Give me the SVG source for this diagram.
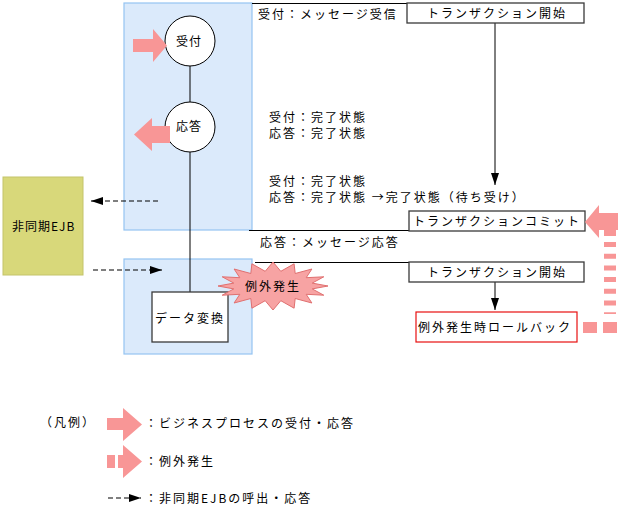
<svg xmlns="http://www.w3.org/2000/svg" width="621" height="511" viewBox="0 0 621 511">
<defs>
<style>
text{font-family:"Noto Sans CJK JP","Noto Sans",sans-serif;font-size:12px;fill:#000;letter-spacing:2px}
.zone{fill:#dbeafb;stroke:#94c4f2;stroke-width:1.2}
.box{fill:#fff;stroke:#3a3a3a;stroke-width:1.3}
.ln{stroke:#000;stroke-width:1;fill:none}
.dash{stroke:#000;stroke-width:1.2;stroke-dasharray:5 3;fill:none}
.pink{fill:#f89696}
.circ{fill:#fff;stroke:#000;stroke-width:1}
</style>
<marker id="ah" viewBox="0 0 12 8" refX="12" refY="4" markerWidth="12" markerHeight="8" markerUnits="userSpaceOnUse" orient="auto">
<path d="M0,0 L12,4 L0,8 Z" fill="#000"/>
</marker>
</defs>
<rect width="621" height="511" fill="#fff"/>

<g id="zone-upper"><rect class="zone" x="124" y="3" width="128" height="227"/></g>
<g id="zone-lower"><rect class="zone" x="124" y="259" width="128" height="95"/></g>

<g id="ejb">
<rect x="3" y="177" width="80" height="98" fill="#d8d87a" stroke="#c4c46a" stroke-width="1"/>
<text x="12" y="231" style="letter-spacing:1px">非同期EJB</text>
</g>

<g id="connectors">
<line class="ln" x1="190" y1="66" x2="190" y2="102"/>
<line class="ln" x1="190" y1="152" x2="190" y2="292"/>
<line class="ln" x1="252" y1="3.5" x2="407" y2="3.5"/>
<line class="ln" x1="249" y1="230.5" x2="409" y2="230.5"/>
<line class="ln" x1="255" y1="262.5" x2="409" y2="262.5"/>
<line class="ln" x1="495" y1="23" x2="495" y2="185" marker-end="url(#ah)"/>
<line class="ln" x1="495" y1="282" x2="495" y2="310" marker-end="url(#ah)"/>
<line class="dash" x1="158" y1="201" x2="91" y2="201" marker-end="url(#ah)"/>
<line class="dash" x1="93" y1="270" x2="162" y2="270" marker-end="url(#ah)"/>
</g>

<g id="node-uketsuke">
<circle class="circ" cx="190" cy="41" r="25"/>
<text x="176" y="46" style="letter-spacing:1px">受付</text>
<polygon class="pink" points="133,39 153,39 153,29 167,45.5 153,62 153,52 133,52"/>
</g>

<g id="node-outou">
<circle class="circ" cx="190" cy="127" r="25"/>
<polygon class="pink" points="170,126 152,126 152,118 134,134.5 152,151 152,143 170,143"/>
<text x="176" y="131" style="letter-spacing:1px">応答</text>
</g>

<g id="node-henkan">
<rect class="box" x="152" y="292" width="76" height="50"/>
<text x="155" y="323">データ変換</text>
</g>

<g id="node-exception">
<polygon fill="#f7a3a3" stroke="#e07070" stroke-width="1" points="328,286 312.2,288.9 323.8,295.2 306.2,294.3 311.9,303 295.2,298.5 294.1,308.2 280.8,300.7 273,310 265.2,300.7 251.9,308.2 250.8,298.5 234.1,303 239.8,294.3 222.2,295.2 233.8,288.9 218,286 233.8,283.1 222.2,276.8 239.8,277.7 234.1,269 250.8,273.5 251.9,263.8 265.2,271.3 273,262 280.8,271.3 294.1,263.8 295.2,273.5 311.9,269 306.2,277.7 323.8,276.8 312.2,283.1"/>
<text x="245" y="291">例外発生</text>
</g>

<g id="tx-start1">
<rect class="box" x="407" y="3" width="177" height="20"/>
<text x="427" y="18">トランザクション開始</text>
</g>
<g id="tx-commit">
<rect class="box" x="409" y="211" width="176" height="20"/>
<text x="413" y="226">トランザクションコミット</text>
</g>
<g id="tx-start2">
<rect class="box" x="409" y="262" width="175" height="20"/>
<text x="427" y="277">トランザクション開始</text>
</g>
<g id="rollback">
<rect x="416" y="312" width="161" height="30" fill="#fff" stroke="#e81010" stroke-width="1.2"/>
<text x="418" y="332">例外発生時ロールバック</text>
</g>

<g id="exception-arrow">
<polygon class="pink" points="585,222 599,205 599,213 618,213 618,230 616,230 616,236 604,236 604,230 599,230 599,238"/>
<line x1="610" y1="242" x2="610" y2="314" stroke="#f89696" stroke-width="12" stroke-dasharray="5 6.7"/>
<rect class="pink" x="583" y="322" width="14" height="11"/>
<rect class="pink" x="603" y="322" width="14" height="11"/>
</g>

<g id="labels">
<text x="258" y="19">受付：メッセージ受信</text>
<text x="269" y="122">受付：完了状態</text>
<text x="269" y="138">応答：完了状態</text>
<text x="269" y="186">受付：完了状態</text>
<text x="269" y="202">応答：完了状態 →完了状態（待ち受け）</text>
<text x="260" y="247">応答：メッセージ応答</text>
</g>

<g id="legend">
<text x="40" y="427">（凡例）</text>
<polygon class="pink" points="107,418 123,418 123,408 142,424.5 123,441 123,430 107,430"/>
<text x="145" y="428">：ビジネスプロセスの受付・応答</text>
<rect class="pink" x="107" y="455" width="8" height="13"/>
<polygon class="pink" points="118,455 123,455 123,445 142,461.5 123,478 123,468 118,468"/>
<text x="145" y="466">：例外発生</text>
<line class="dash" x1="108" y1="498" x2="141" y2="498" marker-end="url(#ah)"/>
<text x="145" y="503">：非同期EJBの呼出・応答</text>
</g>
</svg>
